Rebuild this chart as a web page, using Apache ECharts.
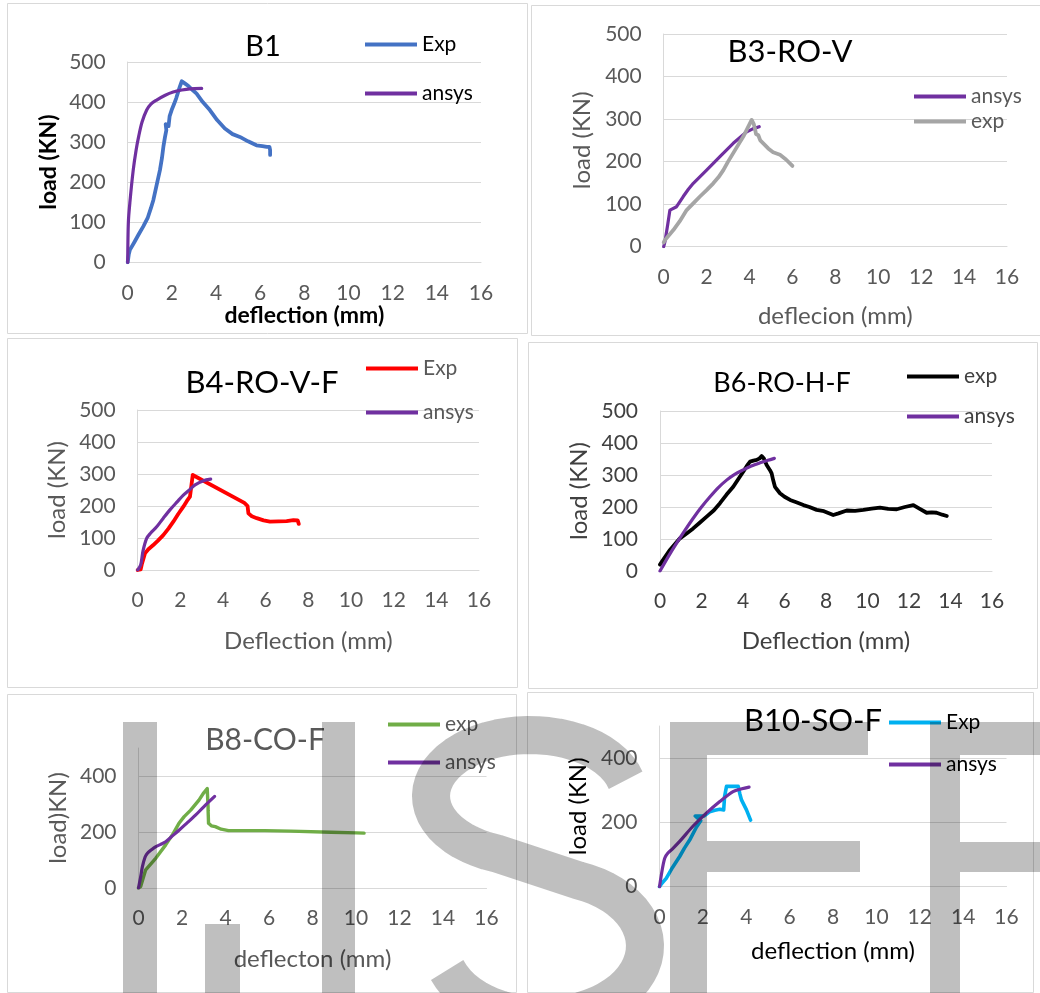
<!DOCTYPE html>
<html><head><meta charset="utf-8">
<script src="https://cdn.jsdelivr.net/npm/echarts@6/dist/echarts.min.js"></script>
<style>html,body{margin:0;padding:0;background:#fff;}#c{width:1040px;height:993px;}</style>
</head><body><div id="c"></div>
<script>
// ---- data (deflection mm, load kN) ----
const X_TICKS = [0, 2, 4, 6, 8, 10, 12, 14, 16];
const B1_EXP = [[0,0],[0.05,20],[0.1,31],[0.3,50],[0.5,70],[0.7,89],[0.9,110],[1.05,135],[1.16,155],[1.3,190],[1.46,230],[1.55,260],[1.62,290],[1.69,313],[1.75,330],[1.72,345],[1.85,340],[1.9,365],[1.99,380],[2.1,395],[2.2,410],[2.3,428],[2.37,440],[2.45,452],[2.52,450],[2.6,446],[2.75,440],[2.9,432],[3.12,421],[3.4,400],[3.72,380],[4.05,355],[4.4,334],[4.75,320],[5.08,313],[5.45,302],[5.83,292],[6.1,290],[6.3,288],[6.42,288],[6.45,280],[6.45,268]];
const B1_ANSYS = [[0,0],[0.03,100],[0.1,150],[0.25,230],[0.38,280],[0.5,315],[0.65,350],[0.86,380],[1.05,395],[1.31,405],[1.7,417],[2.06,425],[2.45,430],[2.82,433],[3.35,434]];
const B3_ANSYS = [[0,0],[0.06,12],[0.18,50],[0.29,86],[0.6,94],[0.91,118],[1.15,135],[1.38,149],[2.0,180],[2.62,212],[3.24,243],[3.87,270],[4.15,277],[4.45,282]];
const B3_EXP = [[0,10],[0.06,16],[0.45,39],[0.75,60],[1.07,86],[1.4,103],[1.69,118],[2.0,133],[2.31,149],[2.55,163],[2.78,180],[3.0,200],[3.24,220],[3.71,259],[4.1,298],[4.2,288],[4.25,278],[4.3,265],[4.41,262],[4.5,250],[4.64,243],[4.87,231],[5.1,222],[5.42,216],[5.7,205],[6.0,190]];
const B4_EXP = [[0,0],[0.14,2],[0.2,20],[0.34,52],[0.5,65],[0.73,78],[0.95,92],[1.2,109],[1.45,130],[1.67,151],[1.9,175],[2.14,198],[2.3,215],[2.45,229],[2.5,255],[2.58,297],[5.0,210],[5.15,200],[5.19,177],[5.35,168],[5.58,162],[5.9,155],[6.2,151],[6.6,152],[6.98,153],[7.3,156],[7.5,155],[7.55,144]];
const B4_ANSYS = [[0,0],[0.14,16],[0.25,60],[0.42,99],[0.6,115],[0.89,135],[1.2,162],[1.51,188],[1.85,213],[2.14,234],[2.45,252],[2.69,266],[3.08,279],[3.42,284]];
const B6_EXP = [[0,20],[0.1,30],[0.48,66],[0.96,102],[1.3,118],[1.6,133],[1.9,150],[2.25,170],[2.6,190],[2.89,212],[3.2,238],[3.53,263],[3.8,290],[4.01,310],[4.2,330],[4.34,342],[4.5,345],[4.66,347],[4.8,352],[4.9,359],[5.0,352],[5.14,331],[5.3,315],[5.38,305],[5.45,285],[5.54,263],[5.78,243],[6.0,232],[6.27,222],[6.6,214],[6.91,206],[7.2,200],[7.55,191],[7.9,187],[8.35,175],[8.6,180],[9.0,189],[9.4,188],[9.8,191],[10.2,195],[10.6,198],[11.0,194],[11.41,193],[11.8,200],[12.21,206],[12.5,195],[12.85,182],[13.1,183],[13.33,182],[13.6,176],[13.82,172]];
const B6_ANSYS = [[0,0],[0.4,45],[0.8,87],[1.2,127],[1.6,165],[2.0,200],[2.41,232],[2.8,260],[3.21,284],[3.6,302],[4.01,316],[4.4,328],[4.82,338],[5.2,346],[5.51,352]];
const B8_EXP = [[0,0],[0.1,5],[0.33,65],[0.8,107],[1.25,154],[1.6,195],[1.86,231],[2.1,255],[2.4,278],[2.78,314],[3.0,340],[3.16,355],[3.18,320],[3.2,290],[3.2,278],[3.25,280],[3.22,231],[3.35,222],[3.53,219],[3.8,210],[4.14,205],[5.0,205],[5.8,205],[7.0,203],[8.85,199],[10.0,197],[10.37,196]];
const B8_ANSYS = [[0,0],[0.1,40],[0.18,76],[0.3,110],[0.41,124],[0.6,137],[0.8,148],[1.0,155],[1.25,165],[1.5,182],[1.86,206],[2.2,230],[2.62,260],[3.0,290],[3.5,327]];
const B10_EXP = [[0,0],[0.1,10],[0.31,26],[0.6,60],[0.93,94],[1.15,120],[1.39,145],[1.7,185],[1.9,205],[1.65,220],[2.05,220],[2.31,233],[2.55,238],[2.78,241],[2.96,239],[3.0,280],[3.09,312],[3.63,312],[3.7,290],[3.78,270],[4.01,239],[4.2,207]];
const B10_ANSYS = [[0,0],[0.15,62],[0.25,90],[0.38,104],[0.6,118],[0.93,141],[1.54,188],[2.16,229],[2.78,265],[3.39,296],[3.8,305],[4.13,310]];

const TITLES = ['B1', 'B3-RO-V', 'B4-RO-V-F', 'B6-RO-H-F', 'B8-CO-F', 'B10-SO-F'];
const X_NAMES = ['deflection (mm)', 'deflecion (mm)', 'Deflection (mm)', 'Deflection (mm)', 'deflecton (mm)', 'deflection (mm)'];
const Y_NAMES = ['load (KN)', 'load (KN)', 'load (KN)', 'load (KN)', 'load)KN)', 'load (KN)'];

// ---- layout / style ----
const F = 'Lato';
const panels = [
  {grid:{left:127.7,top:62,width:353.3,height:200.3}, yInt:100, box:[7,3,520,330], title:[263,47,29,'#000'], xGap:41, yGap:68, bold:true, axColor:'#000', lab:'#595959',
   legend:{left:365,top:34,gap:28,color:'#000'}, series:[['Exp',B1_EXP,'#4472C4',false,3.8],['ansys',B1_ANSYS,'#7030A0',true,3.2]]},
  {grid:{left:663.7,top:34,width:343.3,height:212.7}, yInt:100, box:[531,5,520,330], title:[790,52,31,'#000'], xGap:58, yGap:69, axColor:'#595959', lab:'#595959',
   legend:{left:914,top:86,gap:4,color:'#595959'}, series:[['ansys',B3_ANSYS,'#7030A0',false,3.2],['exp',B3_EXP,'#A5A5A5',false,3.8]]},
  {grid:{left:137.7,top:410,width:341.3,height:160}, yInt:100, box:[7,338,510,349], title:[262,383,31,'#000'], xGap:59, yGap:68, axColor:'#595959', lab:'#595959',
   legend:{left:366,top:358,gap:23,color:'#595959'}, series:[['Exp',B4_EXP,'#FF0000',false,3.8],['ansys',B4_ANSYS,'#7030A0',true,3.2]]},
  {grid:{left:660,top:411,width:332,height:160}, yInt:100, box:[528,342,509,346], title:[782,383,27,'#000'], xGap:58, yGap:69, axColor:'#404040', lab:'#404040',
   legend:{left:907,top:366,gap:19,color:'#404040'}, series:[['exp',B6_EXP,'#000000',false,3.8],['ansys',B6_ANSYS,'#7030A0',true,3.2]]},
  {grid:{left:138.5,top:748,width:348,height:140}, yInt:200, box:[7,694,509,298], title:[265,740,30,'#595959'], xGap:59, yGap:68, axColor:'#595959', lab:'#595959',
   legend:{left:388,top:714,gap:17,color:'#595959'}, series:[['exp',B8_EXP,'#70AD47',false,3.4],['ansys',B8_ANSYS,'#7030A0',true,3.2]]},
  {grid:{left:659.5,top:726,width:347,height:160.7}, yInt:200, box:[527,692,506,300], title:[813,721,31,'#000'], xGap:53, yGap:69, axColor:'#000', lab:'#595959',
   legend:{left:889,top:712,gap:21,color:'#000'}, series:[['Exp',B10_EXP,'#00B0F0',false,3.6],['ansys',B10_ANSYS,'#7030A0',true,3.2]]}
];

const LEG_ICON = 'path://M0,0L52,0L52,4L0,4Z';
const grid = [], xAxis = [], yAxis = [], series = [], legend = [], graphic = [];
panels.forEach((p, i) => {
  grid.push(Object.assign({containLabel:false}, p.grid));
  xAxis.push({type:'value', gridIndex:i, min:X_TICKS[0], max:X_TICKS[X_TICKS.length-1], interval:X_TICKS[1]-X_TICKS[0],
    axisLine:{show:true, onZero:false, lineStyle:{color:'#d9d9d9', width:1}}, axisTick:{show:false}, splitLine:{show:false},
    axisLabel:{fontFamily:F, fontSize:21, color:p.lab, margin:20},
    name:X_NAMES[i], nameLocation:'middle', nameGap:p.xGap,
    nameTextStyle:{fontFamily:F, fontSize:p.bold?23:24, fontWeight:p.bold?'bold':'normal', color:p.axColor}});
  yAxis.push({type:'value', gridIndex:i, min:0, max:500, interval:p.yInt,
    axisLine:{show:true, lineStyle:{color:'#d9d9d9', width:1}}, axisTick:{show:false},
    splitLine:{show:true, showMaxLine: p.yInt === 100, lineStyle:{color:'#d9d9d9', width:1}},
    axisLabel:{fontFamily:F, fontSize:21, color:p.lab, margin:22, showMaxLabel: p.yInt === 100},
    name:Y_NAMES[i], nameLocation:'middle', nameGap:p.yGap,
    nameTextStyle:{fontFamily:F, fontSize:p.bold?23:24, fontWeight:p.bold?'bold':'normal', color:p.axColor}});
  const names = [];
  p.series.forEach(s => {
    const nm = TITLES[i] + '|' + s[0];
    names.push({name:nm, icon:LEG_ICON});
    series.push({type:'line', name:nm, data:s[1], xAxisIndex:i, yAxisIndex:i, symbol:'none', showSymbol:false,
      smooth:s[3] ? 0.3 : false, lineStyle:{color:s[2], width:s[4], join:'round', cap:'round'}, itemStyle:{color:s[2]}, z:3});
  });
  legend.push({orient:'vertical', left:p.legend.left, top:p.legend.top, itemGap:p.legend.gap, itemWidth:52, itemHeight:22,
    padding:0, selectedMode:false, data:names, formatter:n => n.split('|')[1], lineStyle:{width:4},
    textStyle:{fontFamily:F, fontSize:21, color:p.legend.color}});
  graphic.push({type:'rect', shape:{x:p.box[0]+0.5, y:p.box[1]+0.5, width:p.box[2], height:p.box[3]},
    style:{fill:'none', stroke:'#d9d9d9', lineWidth:1}, z:0, silent:true});
  graphic.push({type:'text', x:p.title[0], y:p.title[1], z:5, silent:true,
    style:{text:TITLES[i], font:'normal ' + p.title[2] + 'px ' + F, fill:p.title[3], align:'center', verticalAlign:'middle', textAlign:'center', textVerticalAlign:'middle'}});
});

// ---- IJSER watermark (decoration) ----
const WM = 'rgba(0,0,0,0.25)';
function wmRect(x, y, w, h) { graphic.push({type:'rect', shape:{x, y, width:w, height:h}, style:{fill:WM}, z:100, silent:true}); }
function arcPts(cx, cy, rx, ry, a0, a1, n) {
  const pts = [];
  for (let k = 0; k <= n; k++) { const a = (a0 + (a1 - a0) * k / n) * Math.PI / 180; pts.push([cx + rx * Math.cos(a), cy + ry * Math.sin(a)]); }
  return pts;
}
wmRect(123, 722, 34, 272);          // I
wmRect(322, 722, 33, 272);          // J stem
wmRect(205, 924, 35, 70);           // J hook arm
const sPts = arcPts(530, 796, 99, 61, -15, -250, 40).concat(arcPts(543, 946, 102, 70, -70, 160, 40));
graphic.push({type:'polyline', shape:{points:sPts}, style:{stroke:WM, lineWidth:38, fill:null, lineJoin:'round', lineCap:'butt'}, z:100, silent:true});
wmRect(670, 722, 37, 272);          // E stem
wmRect(707, 722, 161, 33);          // E top
wmRect(707, 841, 153, 31);          // E middle
wmRect(930, 722, 30, 272);          // R stem
wmRect(960, 722, 80, 33);           // R top
wmRect(960, 842, 80, 30);           // R middle

const chart = echarts.init(document.getElementById('c'), null, {renderer:'canvas'});
chart.setOption({animation:false, backgroundColor:'#fff', grid, xAxis, yAxis, series, legend, graphic});
</script></body></html>
